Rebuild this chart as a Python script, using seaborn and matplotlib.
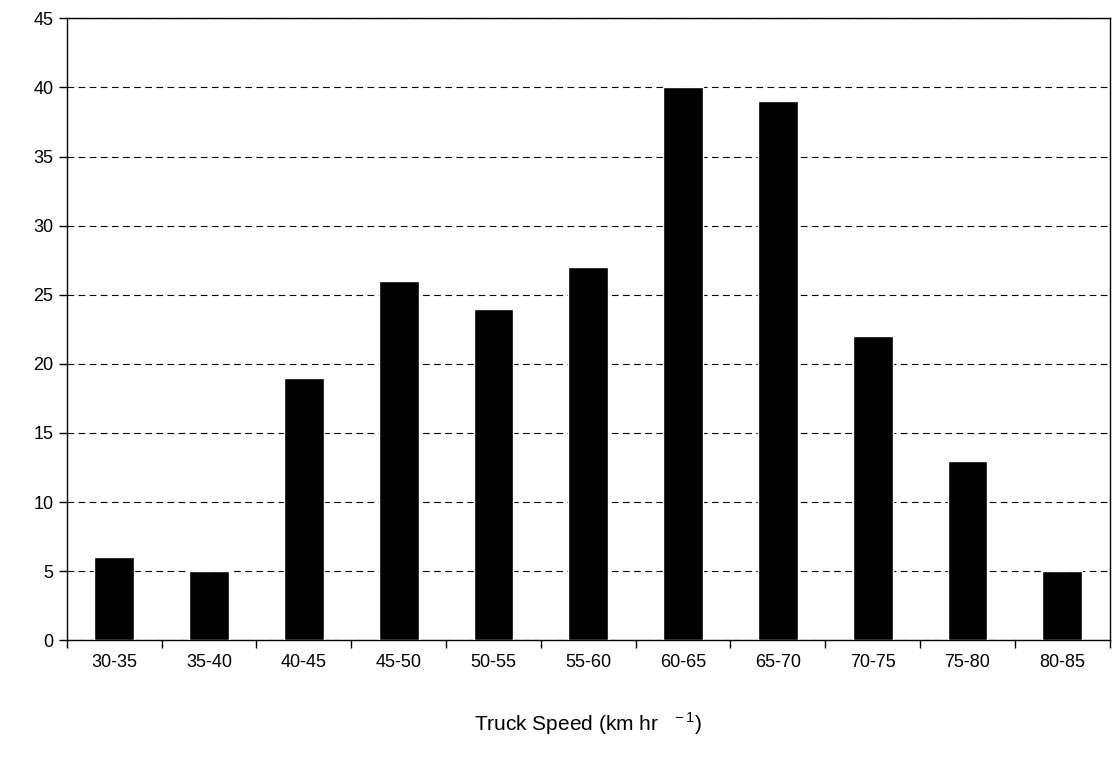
import seaborn as sns
import matplotlib.pyplot as plt
import pandas as pd

speed_bins = ["30-35", "35-40", "40-45", "45-50", "50-55", "55-60",
              "60-65", "65-70", "70-75", "75-80", "80-85"]
counts = [6, 5, 19, 26, 24, 27, 40, 39, 22, 13, 5]

sns.set_style("white")
plt.rcParams['font.family'] = ['Liberation Sans', 'DejaVu Sans']
plt.rcParams['mathtext.fontset'] = 'custom'
plt.rcParams['mathtext.rm'] = 'Liberation Sans'
plt.rcParams['text.color'] = 'black'
plt.rcParams['axes.labelcolor'] = 'black'
plt.rcParams['xtick.color'] = 'black'
plt.rcParams['ytick.color'] = 'black'

df = pd.DataFrame({"bin": speed_bins, "count": counts})
fig = plt.figure(figsize=(11.13, 7.64), dpi=100)
ax = fig.add_axes([0.060, 0.162, 0.937, 0.814])
sns.barplot(x="bin", y="count", data=df, color="black", width=0.42, ax=ax,
            saturation=1, zorder=3)
ax.set_ylim(0, 45)
ax.set_xlim(-0.5, len(speed_bins) - 0.5)
ax.set_yticks(range(0, 46, 5))
ax.yaxis.grid(True, color="black", linestyle=(0, (6, 4)), linewidth=0.8, zorder=0)
ax.set_xticks([i - 0.5 for i in range(len(speed_bins) + 1)], minor=False)
ax.set_xticklabels([])
ax.set_xticks(range(len(speed_bins)), minor=True)
ax.set_xticklabels(speed_bins, minor=True)
ax.tick_params(axis="x", which="major", bottom=True, direction="out", length=6, width=1)
ax.tick_params(axis="x", which="minor", bottom=True, length=0, pad=10, labelsize=13)
ax.tick_params(axis="y", left=True, direction="out", length=6, width=1, labelsize=13)
for s in ax.spines.values():
    s.set_color("black")
    s.set_linewidth(1)
ax.set_xlabel("Truck Speed (km hr$^{\\ \\ \\ -1}$)", fontsize=15, labelpad=28)
ax.set_ylabel("")
fig.savefig("out.png", dpi=100)
